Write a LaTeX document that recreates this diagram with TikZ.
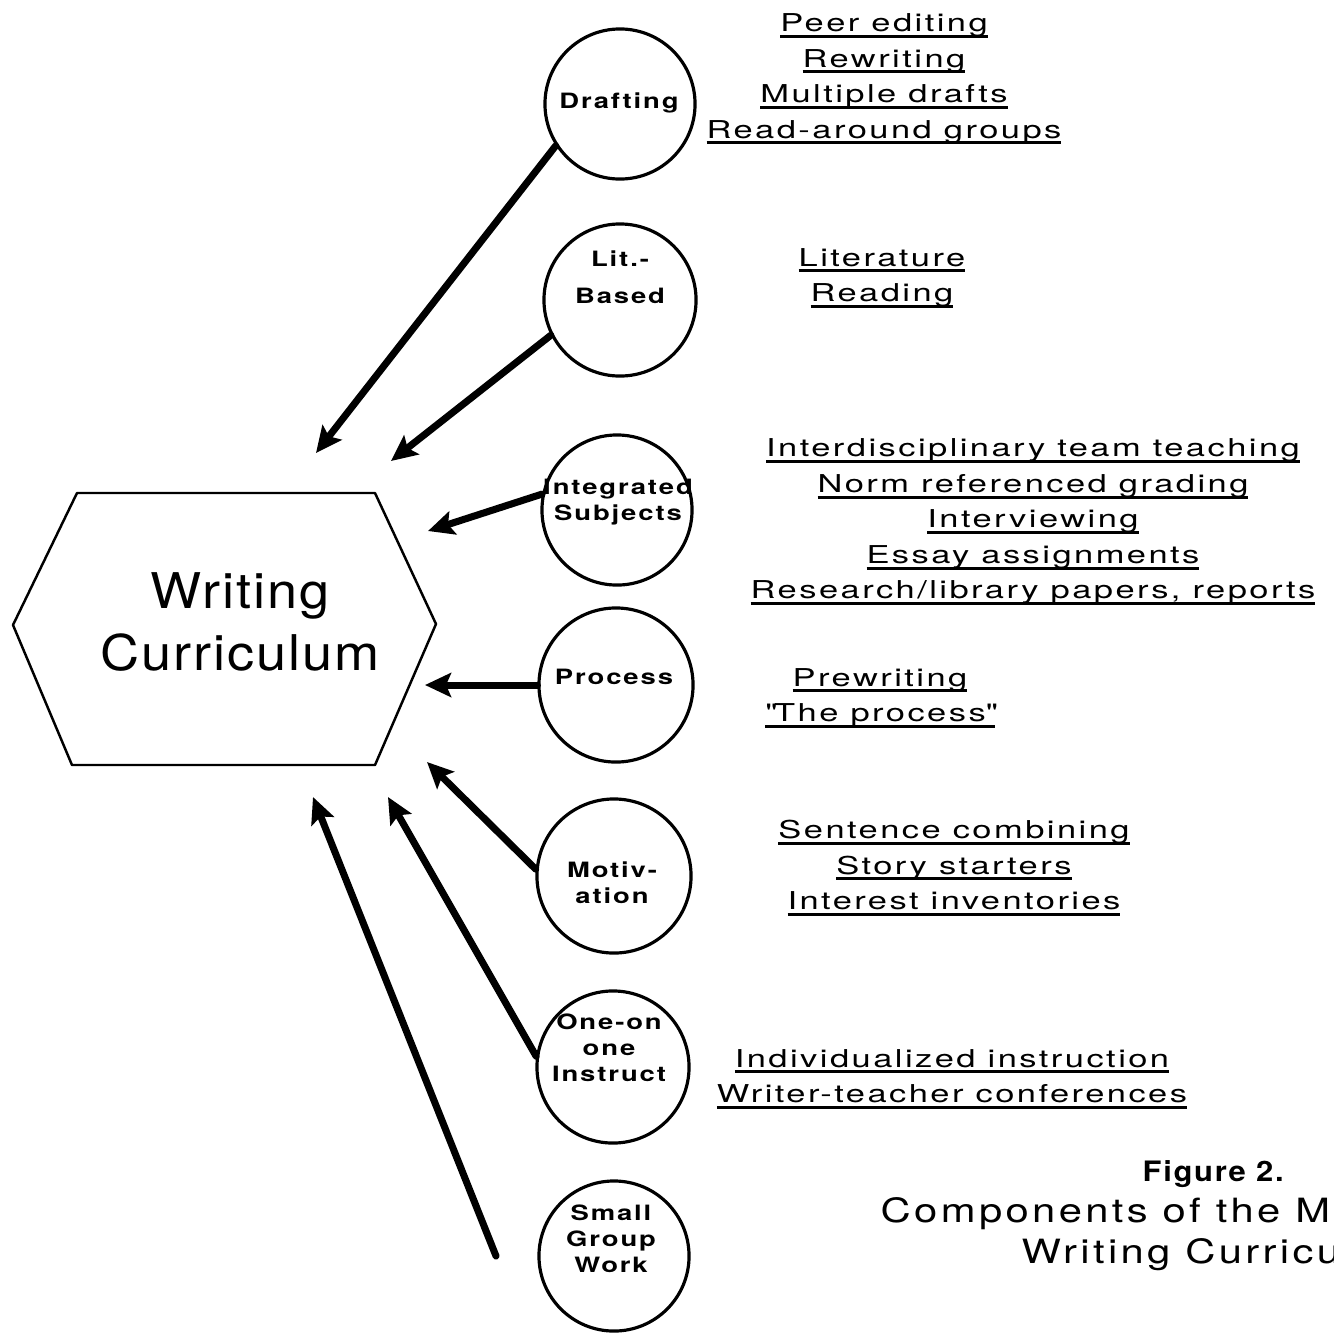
\documentclass[tikz,border=0pt]{standalone}
\usepackage{fontspec}
\setmainfont{TeX Gyre Heros}
\newfontfamily\itemfont[FakeStretch=1.4,LetterSpace=10]{TeX Gyre Heros}
\newfontfamily\circfont[FakeStretch=1.3,LetterSpace=9]{TeX Gyre Heros}
\newfontfamily\titlefont[FakeStretch=1.1,LetterSpace=4]{TeX Gyre Heros}
\newfontfamily\capfont[FakeStretch=1.25,LetterSpace=10]{TeX Gyre Heros}
\newfontfamily\figfont[FakeStretch=1.1,LetterSpace=6]{TeX Gyre Heros}
\usetikzlibrary{arrows.meta}

% underlined line of text, rule sitting just under the baseline
\newcommand\uln[1]{\leavevmode\setbox0=\hbox{#1}\rlap{\vrule width\wd0 height -0.9pt depth 1.75pt}\box0}

\tikzset{
  comp/.style={circle, draw, line width=0.9pt, minimum size=#1, inner sep=0pt},
  ctext/.style={font=\circfont\bfseries\fontsize{6}{7.4}\selectfont, align=center, inner sep=0pt},
  items/.style={font=\itemfont\fontsize{7}{10.1}\selectfont, align=center, inner sep=0pt},
  feed/.style={line width=2pt, line cap=round, -{Stealth[length=0.26cm,width=0.24cm,inset=0.05cm]}},
  hexline/.style={line width=0.7pt, line join=round},
}

\begin{document}
\begin{tikzpicture}[x=0.01cm, y=-0.01cm]
\useasboundingbox (0,0) rectangle (1334,1333);
\clip (0,0) rectangle (1334,1333);
\fill[white] (0,0) rectangle (1334,1333);

% central hexagon
\draw[hexline] (77,493) -- (375,493) -- (436,624) -- (375,765) -- (72,765) -- (13,625) -- cycle;
\node[font=\titlefont\fontsize{14}{17.6}\selectfont, align=center, inner sep=0pt] (wc) at (240,622) {Writing\\Curriculum};

% component circles
\node[comp=1.50cm] (draft) at (620,104) {};
\node[comp=1.52cm] (lit)   at (620,300) {};
\node[comp=1.50cm] (integ) at (617,510) {};
\node[comp=1.54cm] (proc)  at (616,685) {};
\node[comp=1.54cm] (motiv) at (614,876) {};
\node[comp=1.52cm] (one)   at (613,1067) {};
\node[comp=1.50cm] (small) at (614,1256) {};

% circle captions
\node[ctext] (draft-t) at (619,103) {Drafting};
\node[ctext] (lit-t)   at (620,277) {Lit.-\\[3.2pt]Based};
\node[ctext] (integ-t) at (618,502) {Integrated\\Subjects};
\node[ctext] (proc-t)  at (614,677) {Process};
\node[ctext] (motiv-t) at (612,883) {Motiv-\\ation};
\node[ctext] (one-t)   at (609,1048) {One-on\\one\\Instruct};
\node[ctext] (small-t) at (611,1239) {Small\\Group\\Work};

% practices listed beside each component
\node[items] (draft-l) at (884,79) {\uln{Peer editing}\\\uln{Rewriting}\\\uln{Multiple drafts}\\\uln{Read-around groups}};
\node[items] (lit-l)   at (882,278) {\uln{Literature}\\\uln{Reading}};
\node[items] (integ-l) at (1033,522) {\uln{Interdisciplinary team teaching}\\\uln{Norm referenced grading}\\\uln{Interviewing}\\\uln{Essay assignments}\\\uln{Research/library papers, reports}};
\node[items] (proc-l)  at (880,698) {\uln{Prewriting}\\\uln{\textquotedbl The process\textquotedbl}};
\node[items] (motiv-l) at (954,868) {\uln{Sentence combining}\\\uln{Story starters}\\\uln{Interest inventories}};
\node[items] (one-l)   at (952,1079) {\uln{Individualized instruction}\\\uln{Writer-teacher conferences}};

% figure caption, running off the right edge of the page
\node[font=\figfont\bfseries\fontsize{8}{9}\selectfont, anchor=west, inner sep=0pt] (fig) at (1142,1174) {Figure 2.};
\node[font=\capfont\fontsize{9.5}{11}\selectfont, anchor=west, inner sep=0pt] (cap1) at (880,1214) {Components of the Model};
\node[font=\capfont\fontsize{9.5}{11}\selectfont, anchor=west, inner sep=0pt] (cap2) at (1021,1255) {Writing Curriculum};

% arrow tips and the loose tail
\coordinate (tipA) at (316,453);
\coordinate (tipB) at (391,461);
\coordinate (tipC) at (428,531);
\coordinate (tipD) at (425,685);
\coordinate (tipE) at (427,762);
\coordinate (tipF) at (388,797);
\coordinate (tipG) at (313,797);
\coordinate (tailG) at (496,1256);

% arrows into the curriculum
\draw[feed] (draft.213) -- (tipA);
\draw[feed] (lit.207) -- (tipB);
\draw[feed] (integ.168) -- (tipC);
\draw[feed] (proc.west) -- (tipD);
\draw[feed] (motiv.175) -- (tipE);
\draw[feed] (one.172) -- (tipF);
\draw[feed] (tailG) -- (tipG);
\end{tikzpicture}
\end{document}
